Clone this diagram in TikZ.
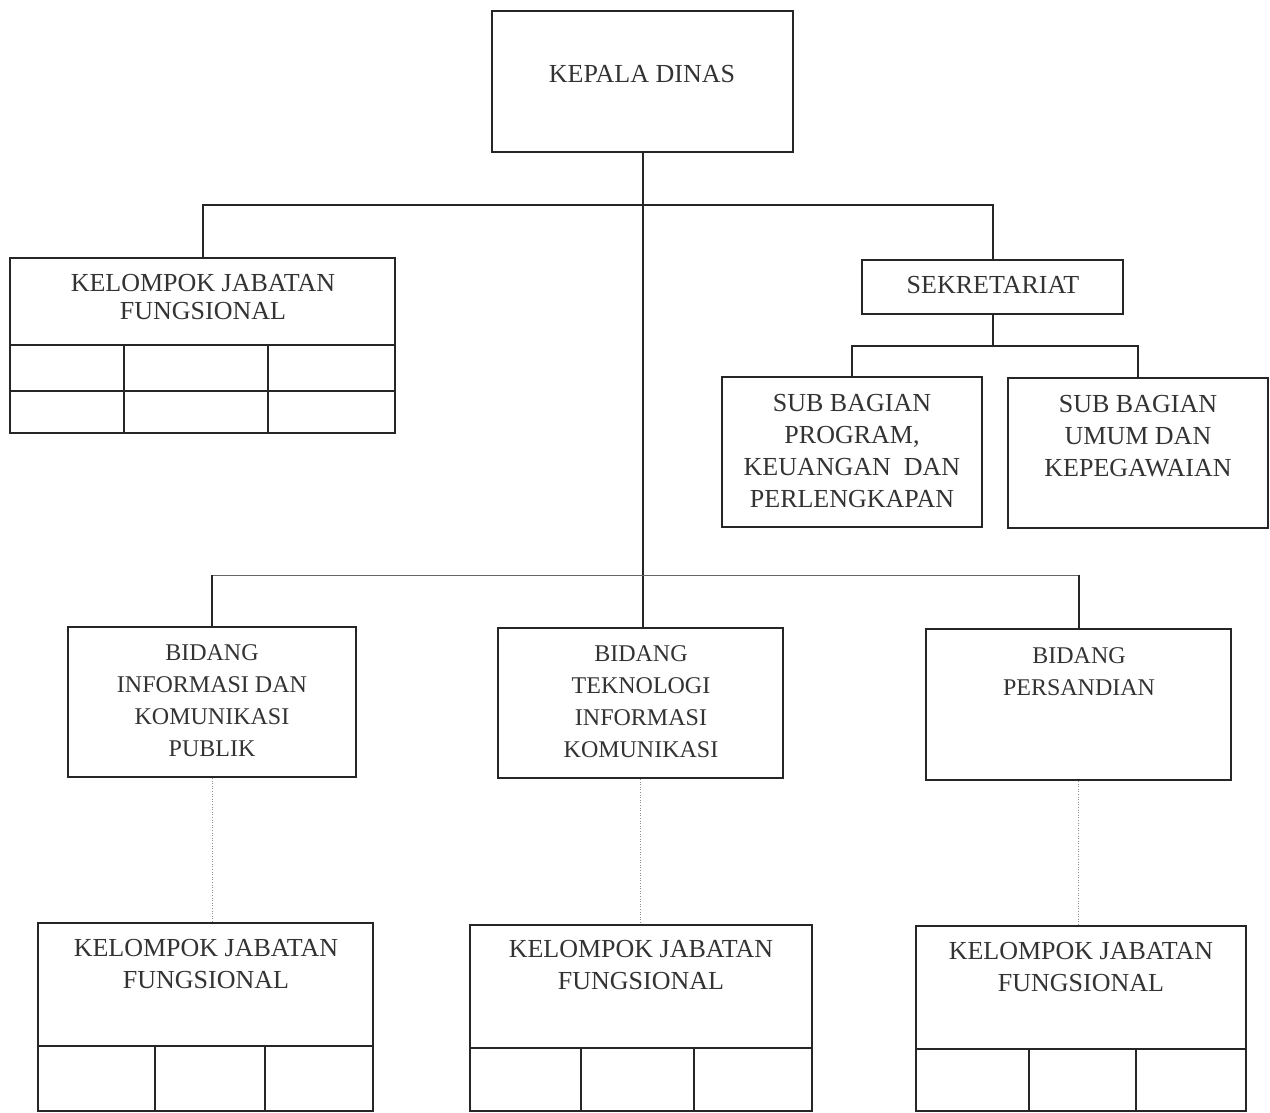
\documentclass[tikz,border=0pt]{standalone}
\usepackage{fontspec}
\setmainfont{Liberation Serif}
\begin{document}
\begin{tikzpicture}[x=1pt,y=1pt,
  box/.style={draw=black!85, line width=2pt, inner sep=0pt, rectangle},
  lbl/.style={text=black!80, align=center, inner sep=0pt, font=\fontsize{26}{32}\selectfont},
  lbln/.style={text=black!80, align=center, inner sep=0pt, font=\fontsize{24}{32}\selectfont},
  lblt/.style={text=black!80, align=center, inner sep=0pt, font=\fontsize{26}{28}\selectfont},
  conn/.style={draw=black!85, line width=2pt},
  grid/.style={draw=black!85, line width=1.6pt},
  thinline/.style={draw=black!60, line width=0.8pt},
  dotline/.style={draw=black!45, line width=0.6pt, dotted}]
\useasboundingbox (0,0) rectangle (1270,-1113);
\fill[white] (0,0) rectangle (1270,-1113);

% boxes
\node[box, minimum width=301, minimum height=141] (kd) at (642.5,-81.5) {};
\node[box, minimum width=385, minimum height=175] (kjf0) at (202.5,-345.5) {};
\node[box, minimum width=261, minimum height=54] (sek) at (992.5,-287) {};
\node[box, minimum width=260, minimum height=150] (sbp) at (852,-452) {};
\node[box, minimum width=260, minimum height=150] (sbu) at (1138,-453) {};
\node[box, minimum width=288, minimum height=150] (bikp) at (212,-702) {};
\node[box, minimum width=285, minimum height=150] (btik) at (640.5,-703) {};
\node[box, minimum width=305, minimum height=151] (bpers) at (1078.5,-704.5) {};
\node[box, minimum width=335, minimum height=188] (kjf1) at (205.5,-1017) {};
\node[box, minimum width=342, minimum height=186] (kjf2) at (641,-1018) {};
\node[box, minimum width=330, minimum height=185] (kjf3) at (1081,-1018.5) {};

% texts
\node[lbl] (tkd) at (642,-74) {KEPALA DINAS};
\node[lblt] (tkjf0) at (203,-297) {KELOMPOK JABATAN\\FUNGSIONAL};
\node[lbl] (tsek) at (993,-285) {SEKRETARIAT};
\node[lbl] (tsbp) at (852,-451) {SUB BAGIAN\\PROGRAM,\\KEUANGAN~~DAN\\PERLENGKAPAN};
\node[lbl] (tsbu) at (1138,-436) {SUB BAGIAN\\UMUM DAN\\KEPEGAWAIAN};
\node[lbln] (tbikp) at (212,-700.5) {BIDANG\\INFORMASI DAN\\KOMUNIKASI\\PUBLIK};
\node[lbln] (tbtik) at (641,-701.5) {BIDANG\\TEKNOLOGI\\INFORMASI\\KOMUNIKASI};
\node[lbln] (tbpers) at (1079,-671.5) {BIDANG\\PERSANDIAN};
\node[lbl] (tkjf1) at (206,-964.5) {KELOMPOK JABATAN\\FUNGSIONAL};
\node[lbl] (tkjf2) at (641,-965.5) {KELOMPOK JABATAN\\FUNGSIONAL};
\node[lbl] (tkjf3) at (1081,-967.5) {KELOMPOK JABATAN\\FUNGSIONAL};

% grids inside KJF boxes
\draw[grid] (kjf0.west |- 0,-345) -- (kjf0.east |- 0,-345);
\draw[grid] (kjf0.west |- 0,-391) -- (kjf0.east |- 0,-391);
\draw[grid] (124,-345) -- (124,0 |- kjf0.south);
\draw[grid] (268,-345) -- (268,0 |- kjf0.south);

\draw[grid] (kjf1.west |- 0,-1046) -- (kjf1.east |- 0,-1046);
\draw[grid] (155,-1046) -- (155,0 |- kjf1.south);
\draw[grid] (265,-1046) -- (265,0 |- kjf1.south);

\draw[grid] (kjf2.west |- 0,-1048) -- (kjf2.east |- 0,-1048);
\draw[grid] (581,-1048) -- (581,0 |- kjf2.south);
\draw[grid] (694,-1048) -- (694,0 |- kjf2.south);

\draw[grid] (kjf3.west |- 0,-1049) -- (kjf3.east |- 0,-1049);
\draw[grid] (1029,-1049) -- (1029,0 |- kjf3.south);
\draw[grid] (1136,-1049) -- (1136,0 |- kjf3.south);

% connectors
\coordinate (j1) at (642,-205);
\coordinate (j2) at (992.5,-346);
\coordinate (j3) at (642,-575);
\draw[conn] (kd.south) -- (kd.south |- btik.north);
\draw[conn] (kjf0.north) |- (j1) -| (sek.north);
\draw[conn] (sek.south) -- (j2);
\draw[conn] (sbp.north) |- (j2) -| (sbu.north);
\draw[thinline] (bikp.north |- j3) -- (bpers.north |- j3);
\draw[conn] (bikp.north) -- (bikp.north |- j3);
\draw[conn] (bpers.north) -- (bpers.north |- j3);
\draw[dotline] (bikp.south) -- (bikp.south |- kjf1.north);
\draw[dotline] (btik.south) -- (btik.south |- kjf2.north);
\draw[dotline] (bpers.south) -- (bpers.south |- kjf3.north);
\end{tikzpicture}
\end{document}
